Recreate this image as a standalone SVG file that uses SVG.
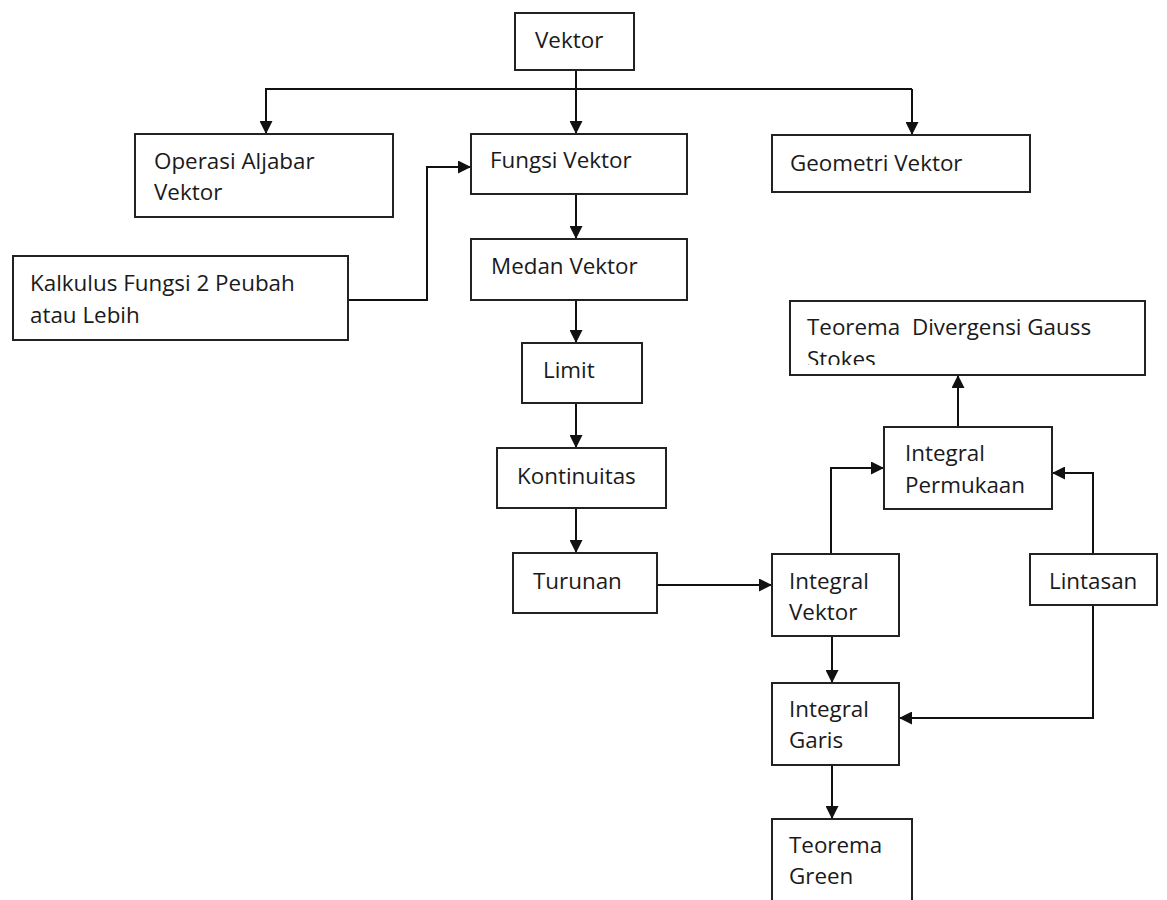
<svg xmlns="http://www.w3.org/2000/svg" width="1167" height="900" viewBox="0 0 1167 900">
<style>
.box{fill:#fff;stroke:#222;stroke-width:2}
.t{font-family:"Open Sans","Noto Sans",sans-serif;font-size:22.4px;fill:#1a1a1a}
.c{fill:none;stroke:#111;stroke-width:2}
</style>
<defs>
<marker id="ah" viewBox="0 0 13 13" refX="13" refY="6.5" markerWidth="13" markerHeight="13" markerUnits="userSpaceOnUse" orient="auto">
<path d="M0,0 L13,6.5 L0,13 Z" fill="#111"/>
</marker>
<clipPath id="clipTD"><rect x="790" y="301" width="355" height="64"/></clipPath>
</defs>
<rect width="1167" height="900" fill="#fff"/>
<g id="connectors">
<path class="c" d="M576,70 V134" marker-end="url(#ah)"/>
<path class="c" d="M265,89 H912"/>
<path class="c" d="M266,89 V134" marker-end="url(#ah)"/>
<path class="c" d="M912,89 V135" marker-end="url(#ah)"/>
<path class="c" d="M348,300 H427 V167 H471" marker-end="url(#ah)"/>
<path class="c" d="M576,194 V239" marker-end="url(#ah)"/>
<path class="c" d="M576,300 V343" marker-end="url(#ah)"/>
<path class="c" d="M576,403 V448" marker-end="url(#ah)"/>
<path class="c" d="M576,508 V553" marker-end="url(#ah)"/>
<path class="c" d="M657,585 H772" marker-end="url(#ah)"/>
<path class="c" d="M958,427 V375" marker-end="url(#ah)"/>
<path class="c" d="M831,554 V468 H884" marker-end="url(#ah)"/>
<path class="c" d="M1093,554 V473 H1052" marker-end="url(#ah)"/>
<path class="c" d="M1093,605 V718 H899" marker-end="url(#ah)"/>
<path class="c" d="M832,636 V683" marker-end="url(#ah)"/>
<path class="c" d="M832,765 V819" marker-end="url(#ah)"/>
</g>
<g id="vektor"><rect class="box" x="515" y="13" width="119" height="57"/><text class="t" x="535" y="48">Vektor</text></g>
<g id="operasi"><rect class="box" x="135" y="134" width="258" height="83"/><text class="t" x="154" y="169">Operasi Aljabar</text><text class="t" x="154" y="200">Vektor</text></g>
<g id="fungsi"><rect class="box" x="471" y="134" width="216" height="60"/><text class="t" x="490" y="168">Fungsi Vektor</text></g>
<g id="geometri"><rect class="box" x="772" y="135" width="258" height="57"/><text class="t" x="790" y="171">Geometri Vektor</text></g>
<g id="kalkulus"><rect class="box" x="13" y="256" width="335" height="84"/><text class="t" x="30" y="291">Kalkulus Fungsi 2 Peubah</text><text class="t" x="30" y="323">atau Lebih</text></g>
<g id="medan"><rect class="box" x="471" y="239" width="216" height="61"/><text class="t" x="491" y="274">Medan Vektor</text></g>
<g id="limit"><rect class="box" x="522" y="343" width="120" height="60"/><text class="t" x="543" y="378">Limit</text></g>
<g id="kontinuitas"><rect class="box" x="497" y="448" width="169" height="60"/><text class="t" x="517" y="484">Kontinuitas</text></g>
<g id="turunan"><rect class="box" x="513" y="553" width="144" height="60"/><text class="t" x="533" y="589">Turunan</text></g>
<g id="teorema-divergensi"><rect class="box" x="790" y="301" width="355" height="74"/><g clip-path="url(#clipTD)"><text class="t" x="807" y="335" xml:space="preserve">Teorema  Divergensi Gauss</text><text class="t" x="807" y="367">Stokes</text></g></g>
<g id="integral-permukaan"><rect class="box" x="884" y="427" width="168" height="82"/><text class="t" x="905" y="461">Integral</text><text class="t" x="905" y="493">Permukaan</text></g>
<g id="integral-vektor"><rect class="box" x="772" y="554" width="127" height="82"/><text class="t" x="789" y="589">Integral</text><text class="t" x="789" y="620">Vektor</text></g>
<g id="lintasan"><rect class="box" x="1030" y="554" width="127" height="51"/><text class="t" x="1049" y="589">Lintasan</text></g>
<g id="integral-garis"><rect class="box" x="772" y="683" width="127" height="82"/><text class="t" x="789" y="717">Integral</text><text class="t" x="789" y="748">Garis</text></g>
<g id="teorema-green"><rect class="box" x="772" y="819" width="140" height="100"/><text class="t" x="789" y="853">Teorema</text><text class="t" x="789" y="884">Green</text></g>
</svg>
